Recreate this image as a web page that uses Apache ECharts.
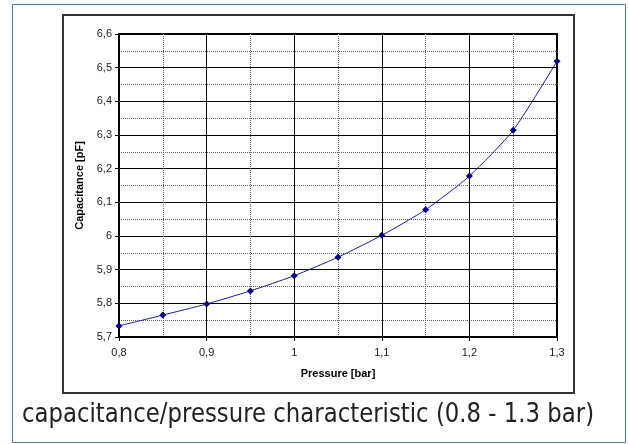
<!DOCTYPE html>
<html>
<head>
    <meta charset="utf-8">
    <script src="https://cdn.jsdelivr.net/npm/echarts@6/dist/echarts.min.js"></script>
    <style>
        html, body { margin: 0; padding: 0; background: #fff; }
    </style>
</head>
<body>
    <div id="main" style="width: 629px;height:444px;"></div>
    <script type="text/javascript">
        // data
        var pressure = [0.8, 0.85, 0.9, 0.95, 1.0, 1.05, 1.1, 1.15, 1.2, 1.25, 1.3];
        var capacitance = [5.733, 5.765, 5.798, 5.837, 5.882, 5.937, 6.002, 6.078, 6.178, 6.314, 6.519];
        var caption = 'capacitance/pressure characteristic (0.8 - 1.3 bar)';

        var myChart = echarts.init(document.getElementById('main'));

        // 0.8 -> "0,8", 1.0 -> "1"
        function commaNum(v) {
            return String(+v.toFixed(2)).replace('.', ',');
        }

        var points = pressure.map(function (p, i) { return [p, capacitance[i]]; });

        var option = {
            animation: false,
            textStyle: { fontFamily: 'Liberation Sans, Arial, sans-serif' },
            grid: {
                left: 119, top: 34, right: 72, bottom: 107,
                show: true,
                borderColor: '#000',
                borderWidth: 2
            },
            xAxis: {
                type: 'value',
                min: 0.8, max: 1.3, interval: 0.1,
                name: 'Pressure [bar]',
                nameLocation: 'middle',
                nameGap: 31,
                nameTextStyle: { fontSize: 11, fontWeight: 'bold', color: '#000' },
                axisLine: { show: true, lineStyle: { color: '#000', width: 2 } },
                axisTick: { show: true, length: 4, lineStyle: { color: '#000' } },
                axisLabel: { color: '#222', fontSize: 11, margin: 10, formatter: commaNum },
                splitLine: { show: true, lineStyle: { color: '#000', width: 1 } },
                minorTick: { show: false, splitNumber: 2 },
                minorSplitLine: { show: true, lineStyle: { color: '#666', type: 'dotted', width: 1 } }
            },
            yAxis: {
                type: 'value',
                min: 5.7, max: 6.6, interval: 0.1,
                name: 'Capacitance [pF]',
                nameLocation: 'middle',
                nameGap: 31,
                nameTextStyle: { fontSize: 11, fontWeight: 'bold', color: '#000' },
                axisLine: { show: true, lineStyle: { color: '#000', width: 2 } },
                axisTick: { show: true, length: 4, lineStyle: { color: '#000' } },
                axisLabel: { color: '#222', fontSize: 11, margin: 7, formatter: commaNum },
                splitLine: { show: true, lineStyle: { color: '#000', width: 1 } },
                minorTick: { show: false, splitNumber: 2 },
                minorSplitLine: { show: true, lineStyle: { color: '#666', type: 'dotted', width: 1 } }
            },
            series: [{
                type: 'line',
                data: points,
                smooth: 0.2,
                symbol: 'diamond',
                symbolSize: 7,
                lineStyle: { color: '#1c1c96', width: 1 },
                itemStyle: { color: '#000080' }
            }],
            graphic: [
                {
                    type: 'rect',
                    shape: { x: 12.5, y: 4.5, width: 613, height: 438 },
                    style: { fill: null, stroke: '#4a78b0', lineWidth: 1 },
                    z: -1
                },
                {
                    type: 'rect',
                    shape: { x: 63, y: 15, width: 511, height: 378 },
                    style: { fill: null, stroke: '#333', lineWidth: 2 },
                    z: -1
                },
                {
                    type: 'text',
                    x: 22,
                    y: 401,
                    scaleX: 0.845,
                    style: {
                        text: caption,
                        fill: '#222',
                        font: '27px "DejaVu Sans", sans-serif',
                        verticalAlign: 'top'
                    }
                }
            ]
        };

        myChart.setOption(option);
    </script>
</body>
</html>
